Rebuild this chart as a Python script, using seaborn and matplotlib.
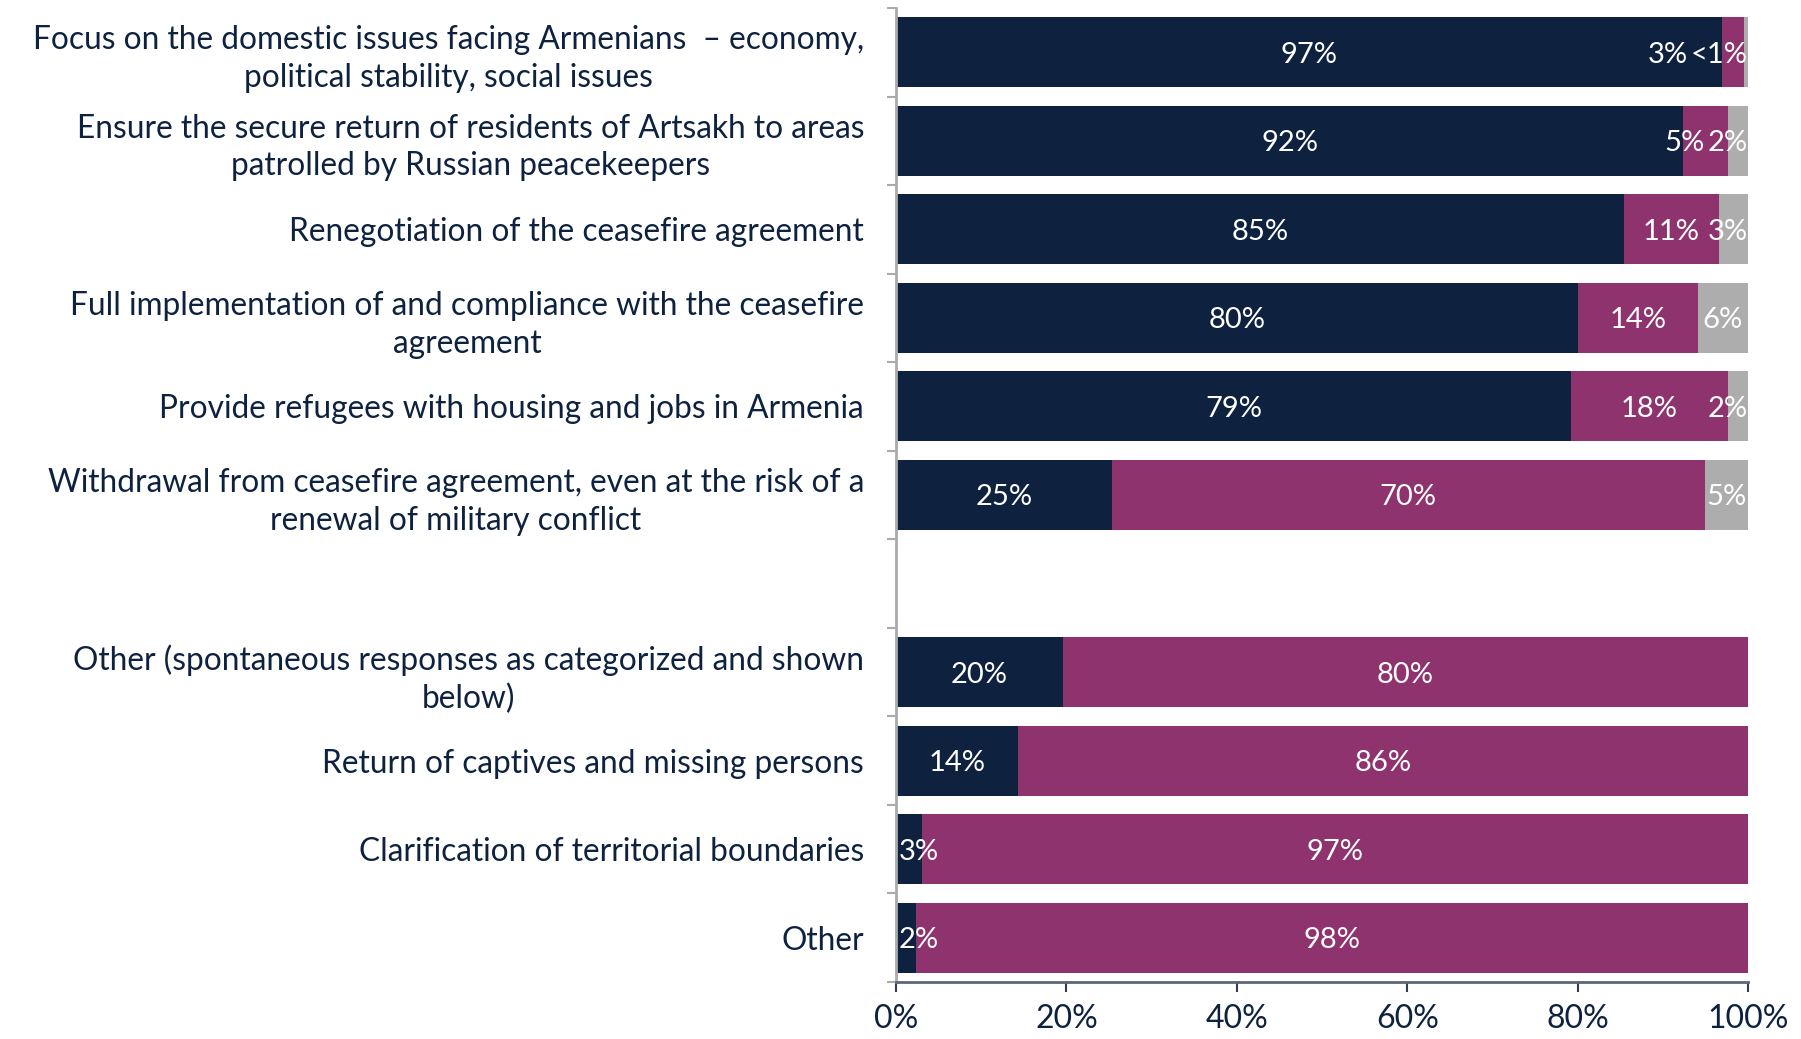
import matplotlib
matplotlib.use("Agg")
import matplotlib.pyplot as plt
import seaborn as sns
import pandas as pd
import numpy as np
from matplotlib.ticker import FuncFormatter

categories = [
    "Focus on the domestic issues facing Armenians  – economy,\npolitical stability, social issues",
    "Ensure the secure return of residents of Artsakh to areas\npatrolled by Russian peacekeepers",
    "Renegotiation of the ceasefire agreement",
    "Full implementation of and compliance with the ceasefire\nagreement",
    "Provide refugees with housing and jobs in Armenia",
    "Withdrawal from ceasefire agreement, even at the risk of a\nrenewal of military conflict",
    "Other (spontaneous responses as categorized and shown\nbelow)",
    "Return of captives and missing persons",
    "Clarification of territorial boundaries",
    "Other",
]
agree = [96.9, 92.4, 85.4, 80.0, 79.2, 25.3, 19.6, 14.3, 3.1, 2.3]
disagree = [2.6, 5.2, 11.2, 14.1, 18.4, 69.6, 80.4, 85.7, 96.9, 97.7]
dont_know = [0.5, 2.4, 3.4, 5.9, 2.4, 5.1, 0.0, 0.0, 0.0, 0.0]
x_ticks = [0, 20, 40, 60, 80, 100]

NAVY = "#0E2240"
MAGENTA = "#8E336E"
GREY = "#ADADAD"
TEXT = "#0E2240"

sns.set_theme(style="white")
plt.rcParams["font.family"] = ["Lato", "DejaVu Sans"]

df = pd.DataFrame({"cat": categories, "agree": agree,
                   "disagree": disagree, "dk": dont_know})
df["c1"] = df["agree"]
df["c2"] = df["agree"] + df["disagree"]
df["c3"] = df["c2"] + df["dk"]

order = categories[:6] + [" "] + categories[6:]

fig = plt.figure(figsize=(18.01, 10.39), dpi=100)
ax = fig.add_axes([0.4975, 0.0549, 0.4731, 0.9374])

common = dict(data=df, y="cat", order=order, width=0.79, ax=ax,
              saturation=1, linewidth=0, errorbar=None, orient="h")
sns.barplot(x="c3", color=GREY, **common)
sns.barplot(x="c2", color=MAGENTA, **common)
sns.barplot(x="c1", color=NAVY, **common)

ax.set_xlim(0, 100)
ax.set_ylim(len(order) - 0.5, -0.5)
ax.set_xlabel("")
ax.set_ylabel("")

# x axis
ax.set_xticks(x_ticks)
ax.xaxis.set_major_formatter(FuncFormatter(lambda v, p: f"{v:.0f}%"))
ax.tick_params(axis="x", which="major", bottom=True, length=7, width=1.5,
               color="#2E3F55", labelsize=23, labelcolor=TEXT, pad=9)
for s in ["top", "right"]:
    ax.spines[s].set_visible(False)
ax.spines["bottom"].set_color("#5B6775")
ax.spines["bottom"].set_linewidth(2)
ax.spines["left"].set_color("#ABABAB")
ax.spines["left"].set_linewidth(2)

# y axis: labels at centres, tick marks at boundaries
ax.set_yticks(range(len(order)))
ax.set_yticklabels(order, multialignment="center", linespacing=1.32)
ax.set_yticks(np.arange(-0.5, len(order), 1.0), minor=True)
ax.tick_params(axis="y", which="major", left=False, length=0,
               labelsize=22.8, labelcolor=TEXT, pad=23)
ax.tick_params(axis="y", which="minor", left=True, length=6.5, width=1.5,
               color="#ABABAB")
ax.grid(False)

# value labels
fig.canvas.draw()
renderer = fig.canvas.get_renderer()
inv = ax.transData.inverted()


def fmt(v):
    return "<1%" if v < 1 else f"{v:.0f}%"


pos = {c: i for i, c in enumerate(order)}
for _, r in df.iterrows():
    y = pos[r["cat"]]
    segs = []
    start = 0.0
    for v in (r["agree"], r["disagree"], r["dk"]):
        if v > 0:
            segs.append((start, v))
        start += v
    texts = []
    for s0, w in segs:
        t = ax.text(s0 + w / 2, y, fmt(w), ha="center", va="center_baseline",
                    color="white", fontsize=21)
        texts.append(t)
    fig.canvas.draw()
    # resolve overlaps from right to left
    limit = 100.0
    gap = 0.4
    for t in reversed(texts):
        bb = t.get_window_extent(renderer)
        x0 = inv.transform((bb.x0, 0))[0]
        x1 = inv.transform((bb.x1, 0))[0]
        half = (x1 - x0) / 2
        cx = t.get_position()[0]
        if cx + half > limit:
            cx = limit - half
        if cx - half < 0.3:
            cx = 0.3 + half
        t.set_x(cx)
        limit = cx - half - gap

fig.savefig("out.png", dpi=100, facecolor="white")
